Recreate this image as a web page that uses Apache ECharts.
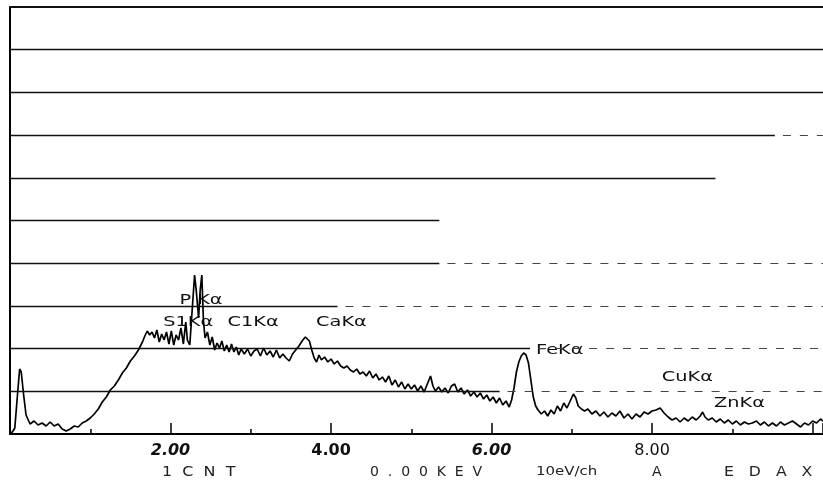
<!DOCTYPE html>
<html><head><meta charset="utf-8">
<script src="https://cdn.jsdelivr.net/npm/echarts@6/dist/echarts.min.js"></script>
<style>html,body{margin:0;padding:0;background:#fff}#c{width:823px;height:484px}</style>
</head><body><div id="c"></div>
<script>
// Energy (keV) and counts (arbitrary units, full scale = 427)
var energy = [0,0.03,0.06,0.09,0.12,0.14,0.17,0.20,0.25,0.30,0.35,0.40,0.45,0.50,0.55,0.60,0.65,0.70,0.75,0.80,0.85,0.90,0.95,1.00,1.05,1.10,1.15,1.20,1.25,1.30,1.35,1.40,1.45,1.50,1.55,1.60,1.65,1.68,1.71,1.74,1.77,1.80,1.83,1.86,1.89,1.92,1.95,1.98,2.01,2.04,2.07,2.10,2.13,2.16,2.19,2.21,2.24,2.27,2.30,2.32,2.35,2.37,2.39,2.41,2.43,2.46,2.49,2.52,2.55,2.58,2.61,2.64,2.67,2.70,2.73,2.76,2.79,2.82,2.85,2.88,2.92,2.96,3.00,3.04,3.08,3.12,3.16,3.20,3.24,3.28,3.32,3.36,3.40,3.44,3.48,3.52,3.56,3.60,3.64,3.68,3.70,3.73,3.76,3.79,3.82,3.85,3.88,3.92,3.96,4.00,4.04,4.08,4.12,4.16,4.20,4.24,4.28,4.32,4.36,4.40,4.44,4.48,4.52,4.56,4.60,4.64,4.68,4.72,4.76,4.80,4.84,4.88,4.92,4.96,5.00,5.04,5.08,5.12,5.16,5.20,5.24,5.27,5.30,5.34,5.38,5.42,5.46,5.50,5.54,5.58,5.62,5.66,5.70,5.74,5.78,5.82,5.86,5.90,5.94,5.98,6.02,6.06,6.10,6.14,6.18,6.22,6.25,6.28,6.31,6.34,6.37,6.40,6.43,6.46,6.49,6.52,6.55,6.58,6.62,6.66,6.70,6.74,6.78,6.82,6.86,6.90,6.94,6.98,7.02,7.05,7.08,7.12,7.16,7.20,7.25,7.30,7.35,7.40,7.45,7.50,7.55,7.60,7.65,7.70,7.75,7.80,7.85,7.90,7.95,8.00,8.05,8.10,8.15,8.20,8.25,8.30,8.35,8.40,8.45,8.50,8.55,8.60,8.63,8.66,8.70,8.75,8.80,8.85,8.90,8.95,9.00,9.05,9.10,9.15,9.20,9.25,9.30,9.35,9.40,9.45,9.50,9.55,9.60,9.65,9.70,9.75,9.80,9.85,9.90,9.95,10.00,10.05,10.10,10.13];
var counts = [1,2,6,36,65,62,39,19,10,13,9,11,8,12,8,10,5,3,5,8,7,11,13,16,20,25,32,37,44,48,54,61,66,73,78,84,92,98,103,99,102,96,104,92,100,94,102,90,103,89,99,94,106,90,112,94,89,124,159,144,116,144,159,114,96,102,89,97,84,91,86,93,83,89,82,90,82,87,79,85,80,85,78,83,85,78,86,79,83,77,84,76,80,76,73,80,84,88,93,97,98,93,84,76,72,79,74,77,72,75,70,73,68,66,68,64,62,65,60,62,58,63,56,60,54,57,52,58,49,54,47,52,45,50,45,49,43,48,42,50,58,48,43,47,42,46,41,48,50,42,46,40,44,38,42,37,41,35,39,33,37,31,36,29,33,27,34,46,62,72,78,81,79,71,54,37,28,24,20,23,18,24,20,28,23,31,26,33,40,36,28,25,23,25,20,23,18,22,17,21,18,23,16,20,15,20,17,22,20,23,24,26,21,17,14,16,12,16,13,17,14,18,22,17,14,16,12,15,11,14,10,13,9,12,10,11,13,9,12,8,11,8,12,9,11,13,10,7,11,9,13,11,15,13];

var xTickLabels = {2:'2.00', 4:'4.00', 6:'6.00', 8:'8.00'};
var xLabelStyle = {2:'it', 4:'b', 6:'it', 8:'n'};

var peakNames = ['P Kα','S1Kα','C1Kα','CaKα','FeKα','CuKα','ZnKα'];
var peakE =     [2.38, 2.22, 3.03, 4.13, 6.85, 8.44, 9.09];
var peakCnt =   [134, 112, 112, 112, 84, 57, 31];

var footerTexts = ['1  C  N  T','0  .  0  0  K  E  V','10eV/ch','A','E   D   A   X'];

var gridStep = 42.7;
// [level, end of solid part (keV), dashed remainder?]
var gridLines = [[1,6.10,1],[2,6.48,1],[3,4.08,1],[4,5.35,1],[5,5.35,0],[6,8.79,0],[7,9.53,1],[8,10.13,0],[9,10.13,0],[10,10.13,0]];
var xMax = 10.13;

var chart = echarts.init(document.getElementById('c'));
var spec = energy.map(function(e,i){return [e,counts[i]];});

var mlData = [];
gridLines.forEach(function(g){
  var y = g[0]*gridStep;
  mlData.push([{coord:[0,y], lineStyle:{type:'solid',color:'#111',width:g[0]===10?2:1.3}},{coord:[g[1],y]}]);
  if(g[2]) mlData.push([{coord:[g[1]+0.1,y], lineStyle:{type:[8,9],color:'#444',width:1.2}},{coord:[xMax,y]}]);
});

chart.setOption({
  animation:false,
  grid:{left:10,right:0,top:7,bottom:50},
  xAxis:[{
    type:'value', min:0, max:xMax, interval:1,
    axisLine:{show:true,lineStyle:{color:'#000',width:2}},
    axisTick:{show:true,inside:true,length:5,lineStyle:{color:'#000',width:1.5}},
    splitLine:{show:false},
    axisLabel:{margin:9, showMaxLabel:false,
      formatter:function(v){var k=Math.round(v); if(!xTickLabels[k]) return ''; return '{'+xLabelStyle[k]+'|'+xTickLabels[k]+'}';},
      rich:{
        it:{fontFamily:'DejaVu Sans',fontSize:16,fontWeight:'bold',fontStyle:'italic',color:'#111'},
        b:{fontFamily:'DejaVu Sans',fontSize:16,fontWeight:'bold',color:'#111'},
        n:{fontFamily:'DejaVu Sans',fontSize:16,color:'#111'}
      }}
  },{
    type:'value', min:0, max:xMax, interval:2, position:'bottom',
    axisLine:{show:false},
    axisTick:{show:true,inside:true,length:11,lineStyle:{color:'#000',width:1.5}},
    axisLabel:{show:false}, splitLine:{show:false}
  }],
  yAxis:{type:'value',min:0,max:427,interval:gridStep,
    axisLine:{show:true,lineStyle:{color:'#000',width:2}},
    axisTick:{show:false},axisLabel:{show:false},splitLine:{show:false}},
  series:[{
    type:'line', data:spec, showSymbol:false, symbol:'none', clip:true,
    lineStyle:{color:'#000',width:1.7},
    markLine:{silent:true,symbol:'none',label:{show:false},data:mlData}
  }]
});

// peak labels anchored at data coordinates
var gfx = peakNames.map(function(n,i){
  var p = chart.convertToPixel({seriesIndex:0},[peakE[i],peakCnt[i]]);
  return {type:'text',x:p[0],y:p[1],scaleX:1.38,silent:true,
    style:{text:n,font:'14px "DejaVu Sans"',fill:'#111',align:'center',verticalAlign:'middle'}};
});
var footX = [162,370,536,652,724];
var footScale = [1.14,1.0,1.15,1.0,1.12];
footerTexts.forEach(function(t,i){
  gfx.push({type:'text',x:footX[i],y:472,scaleX:footScale[i],silent:true,
    style:{text:t,font:(i===2?'13px':'14px')+' "DejaVu Sans"',fill:'#222',align:'left',verticalAlign:'middle'}});
});
chart.setOption({graphic:gfx});
</script></body></html>
